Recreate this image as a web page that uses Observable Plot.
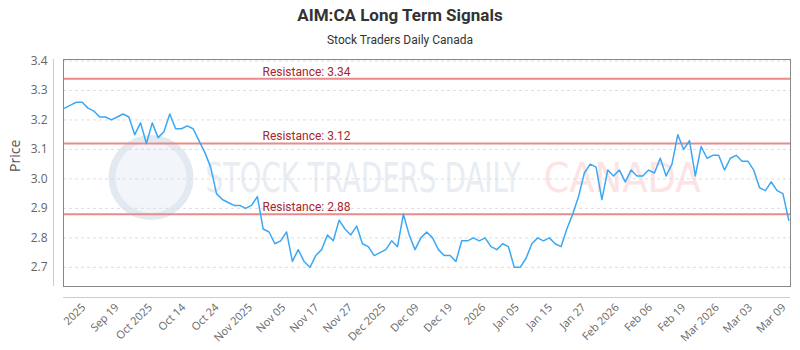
<!DOCTYPE html>
<html>
<head>
<meta charset="utf-8">
<script src="https://cdn.jsdelivr.net/npm/d3@7"></script>
<script src="https://cdn.jsdelivr.net/npm/@observablehq/plot@0.6"></script>
<style>
  body { margin: 0; background: #fff; }
  #title { font: bold 17px Roboto, sans-serif; text-align: center; height: 30px; line-height: 30px; color: #333; }
  #subtitle { font: 12px Roboto, sans-serif; text-align: center; height: 20px; line-height: 20px; color: #333; }
</style>
</head>
<body>
<div id="title">AIM:CA Long Term Signals</div>
<div id="subtitle">Stock Traders Daily Canada</div>
<div id="chart"></div>
<script>
const prices = [
  3.24, 3.25, 3.26, 3.26, 3.24, 3.23, 3.21, 3.21, 3.20, 3.21,
  3.22, 3.21, 3.15, 3.19, 3.12, 3.19, 3.14, 3.16, 3.22, 3.17,
  3.17, 3.18, 3.17, 3.13, 3.09, 3.04, 2.95, 2.93, 2.92, 2.91,
  2.91, 2.90, 2.91, 2.94, 2.83, 2.82, 2.78, 2.79, 2.82, 2.72,
  2.76, 2.72, 2.70, 2.74, 2.76, 2.81, 2.79, 2.86, 2.83, 2.81,
  2.84, 2.78, 2.77, 2.74, 2.75, 2.76, 2.79, 2.77, 2.88, 2.81,
  2.76, 2.80, 2.82, 2.80, 2.76, 2.74, 2.74, 2.72, 2.79, 2.79,
  2.80, 2.79, 2.80, 2.77, 2.76, 2.78, 2.77, 2.70, 2.70, 2.73,
  2.78, 2.80, 2.79, 2.80, 2.78, 2.77, 2.83, 2.88, 2.94, 3.02,
  3.05, 3.04, 2.93, 3.03, 3.01, 3.03, 2.99, 3.03, 3.01, 3.01,
  3.03, 3.02, 3.07, 3.01, 3.05, 3.15, 3.10, 3.13, 3.01, 3.11,
  3.07, 3.08, 3.08, 3.03, 3.07, 3.08, 3.06, 3.06, 3.03, 2.97,
  2.96, 2.99, 2.96, 2.95, 2.86
];
const resistance = [3.34, 3.12, 2.88];
const yTicks = [2.7, 2.8, 2.9, 3.0, 3.1, 3.2, 3.3, 3.4];
const xTickLabels = ["2025", "Sep 19", "Oct 2025", "Oct 14", "Oct 24", "Nov 2025", "Nov 05", "Nov 17",
  "Nov 27", "Dec 2025", "Dec 09", "Dec 19", "2026", "Jan 05", "Jan 15", "Jan 27", "Feb 2026",
  "Feb 06", "Feb 19", "Mar 2026", "Mar 03", "Mar 09"];

const data = prices.map((p, i) => ({i, p}));
// evenly spaced tick slots along the index axis
const tickPos = xTickLabels.map((_, k) => 3.25 + k * 5.71);
const labelAt = new Map(tickPos.map((t, k) => [t, xTickLabels[k]]));
const xDomain = [-0.2, 124.3];
const yDomain = [2.635, 3.405];

const chart = Plot.plot({
  width: 800,
  height: 300,
  marginTop: 9,
  marginBottom: 64,
  marginLeft: 63,
  marginRight: 10,
  style: {fontFamily: "'Open Sans', sans-serif", fontSize: "11px", color: "#666", background: "#fff"},
  x: {domain: xDomain},
  y: {domain: yDomain},
  marks: [
    Plot.dot([0], {frameAnchor: "middle", dx: -276, dy: 4.5, r: 39, stroke: "#e3e9f1", strokeWidth: 7, fill: "#f2f5f9"}),
    Plot.text(["STOCK TRADERS DAILY"], {frameAnchor: "middle", dx: -64, dy: 6, fontSize: 40, fill: "#e8edf4", fontFamily: "'DejaVu Sans Condensed', sans-serif"}),
    Plot.text(["CANADA"], {frameAnchor: "middle", dx: 195, dy: 6, fontSize: 40, fill: "#fde4e4", fontFamily: "'DejaVu Sans Condensed', sans-serif"}),
    Plot.gridY(yTicks, {stroke: "#ddd", strokeOpacity: 1, strokeDasharray: "3,3"}),
    Plot.ruleY(resistance, {stroke: "#e98a8c", strokeWidth: 2}),
    Plot.text(resistance, {y: d => d, text: d => `Resistance: ${d.toFixed(2)}`, frameAnchor: "left", textAnchor: "start", dx: 199, dy: -7, fill: "#a8262c", fontSize: 12, fontFamily: "Roboto, sans-serif"}),
    Plot.line(data, {x: "i", y: "p", stroke: "#3aa8f5", strokeWidth: 1.5}),
    Plot.frame({stroke: "#888"}),
    Plot.axisY(yTicks, {tickSize: 0, tickPadding: 16, fontSize: 12, tickFormat: d => d.toFixed(1), label: null}),
    Plot.text(["Price"], {frameAnchor: "left", dx: -48, dy: -1, rotate: -90, fontSize: 14, fill: "#555"}),
    Plot.axisX(tickPos, {tickSize: 0, tickPadding: 19, tickRotate: -45, tickFormat: d => labelAt.get(d), label: null}),
    Plot.ruleY([yDomain[0]], {dy: 11, stroke: "#ccc"}),
    Plot.ruleX([xDomain[0]], {dx: -10, stroke: "#ccc"})
  ]
});
document.getElementById("chart").appendChild(chart);
d3.select(chart).selectAll("text").each(function() {
  if (this.textContent === "STOCK TRADERS DAILY") { this.setAttribute("textLength", 315); this.setAttribute("lengthAdjust", "spacingAndGlyphs"); }
  if (this.textContent === "CANADA") { this.setAttribute("textLength", 157); this.setAttribute("lengthAdjust", "spacingAndGlyphs"); }
});
</script>
</body>
</html>
